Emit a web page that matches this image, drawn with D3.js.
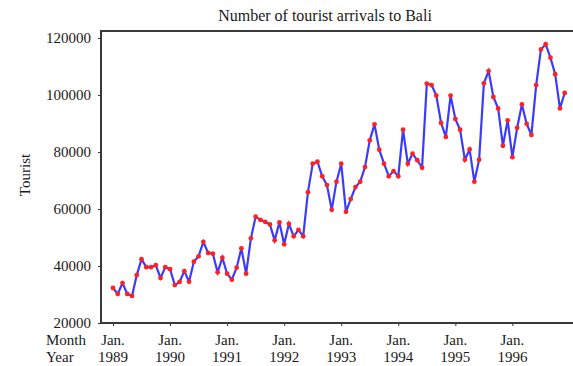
<!DOCTYPE html>
<html lang="en">
<head>
<meta charset="UTF-8">
<title>Number of tourist arrivals to Bali</title>
<script src="https://d3js.org/d3.v7.min.js"></script>
<style>
    body { margin: 0; background: #fff; }
    svg { display: block; font-family: "Liberation Serif", "DejaVu Serif", serif; }
    .lbl { font-size: 15px; fill: #1a1a1a; }
    .ttl { font-size: 16px; fill: #1a1a1a; }
</style>
</head>
<body>
<svg id="chart" width="573" height="366"></svg>
<script>
    // monthly arrivals, Jan 1989 .. Dec 1996
    const arrivals1989 = [32300, 30200, 34000, 30200, 29500, 36800, 42400, 39600, 39600, 40300, 35800, 39600];
    const arrivals1990 = [38900, 33300, 34400, 38200, 34500, 41500, 43400, 48500, 44600, 44300, 37800, 42900];
    const arrivals1991 = [37300, 35200, 39400, 46200, 37300, 49700, 57300, 56200, 55500, 54600, 49000, 55300];
    const arrivals1992 = [47600, 54800, 50400, 52700, 50400, 65900, 75900, 76600, 71500, 68400, 59700, 69600];
    const arrivals1993 = [75900, 59000, 63500, 67700, 69600, 74700, 84100, 89700, 80800, 75900, 71500, 73300];
    const arrivals1994 = [71500, 87800, 75900, 79400, 77100, 74500, 104000, 103500, 99800, 90200, 85300, 99800];
    const arrivals1995 = [91600, 87800, 77300, 80900, 69600, 77300, 104100, 108400, 99300, 95300, 82200, 91100];
    const arrivals1996 = [78200, 88500, 96700, 89900, 86000, 103500, 116000, 117800, 113100, 107300, 95300, 100700];

    const years = [1989, 1990, 1991, 1992, 1993, 1994, 1995, 1996];
    const yTicks = [20000, 40000, 60000, 80000, 100000, 120000];
    const title = "Number of tourist arrivals to Bali";

    const values = [].concat(arrivals1989, arrivals1990, arrivals1991, arrivals1992,
        arrivals1993, arrivals1994, arrivals1995, arrivals1996);
    const data = values.map((v, i) => ({ i: i, v: v }));

    const W = 573, H = 366;
    const frameL = 101, frameT = 31, frameB = 323;

    const svg = d3.select("#chart");
    svg.append("rect").attr("width", W).attr("height", H).attr("fill", "#fff");

    const x = d3.scaleLinear().domain([0, 95]).range([113, 564.7]);
    const y = d3.scaleLinear().domain([20000, 120000]).range([frameB, 38]);

    // title
    svg.append("text").attr("class", "ttl")
        .attr("x", 325).attr("y", 21)
        .attr("text-anchor", "middle")
        .text(title);

    // y axis ticks + labels
    const yAxis = svg.append("g")
        .attr("transform", `translate(${frameL},0)`)
        .call(d3.axisLeft(y).tickValues(yTicks).tickSize(3).tickPadding(7).tickFormat(d3.format("d")));
    yAxis.select(".domain").remove();
    yAxis.selectAll("line").attr("stroke", "#333");
    yAxis.attr("font-family", null).attr("font-size", null);
    yAxis.selectAll("text").attr("class", "lbl").attr("fill", null);

    // x axis ticks at each January
    const janIdx = years.map((yr, k) => k * 12);
    const xAxis = svg.append("g")
        .attr("transform", `translate(0,${frameB})`)
        .call(d3.axisBottom(x).tickValues(janIdx).tickSize(3).tickFormat(""));
    xAxis.select(".domain").remove();
    xAxis.selectAll("line").attr("stroke", "#333");

    // two-line x labels
    svg.append("g").selectAll("text").data(janIdx).join("text")
        .attr("class", "lbl").attr("text-anchor", "middle")
        .attr("x", d => x(d)).attr("y", 345).text("Jan.");
    svg.append("g").selectAll("text").data(years).join("text")
        .attr("class", "lbl").attr("text-anchor", "middle")
        .attr("x", (d, k) => x(janIdx[k])).attr("y", 362).text(d => d);

    svg.append("text").attr("class", "lbl").attr("x", 46).attr("y", 345).text("Month");
    svg.append("text").attr("class", "lbl").attr("x", 46).attr("y", 362).text("Year");

    // y title
    svg.append("text").attr("class", "lbl")
        .attr("transform", "translate(30,175) rotate(-90)")
        .attr("text-anchor", "middle")
        .text("Tourist");

    // frame
    svg.append("path")
        .attr("d", `M${W},${frameT}H${frameL}V${frameB}H${W}`)
        .attr("fill", "none").attr("stroke", "#3a3a3a").attr("stroke-width", 2);

    // series
    const line = d3.line().x(d => x(d.i)).y(d => y(d.v));
    svg.append("path").datum(data)
        .attr("d", line)
        .attr("fill", "none")
        .attr("stroke", "#3b3bff")
        .attr("stroke-width", 2.2);

    svg.append("g").selectAll("circle").data(data).join("circle")
        .attr("cx", d => x(d.i)).attr("cy", d => y(d.v))
        .attr("r", 2.4)
        .attr("fill", "#ff2020");
</script>
</body>
</html>
